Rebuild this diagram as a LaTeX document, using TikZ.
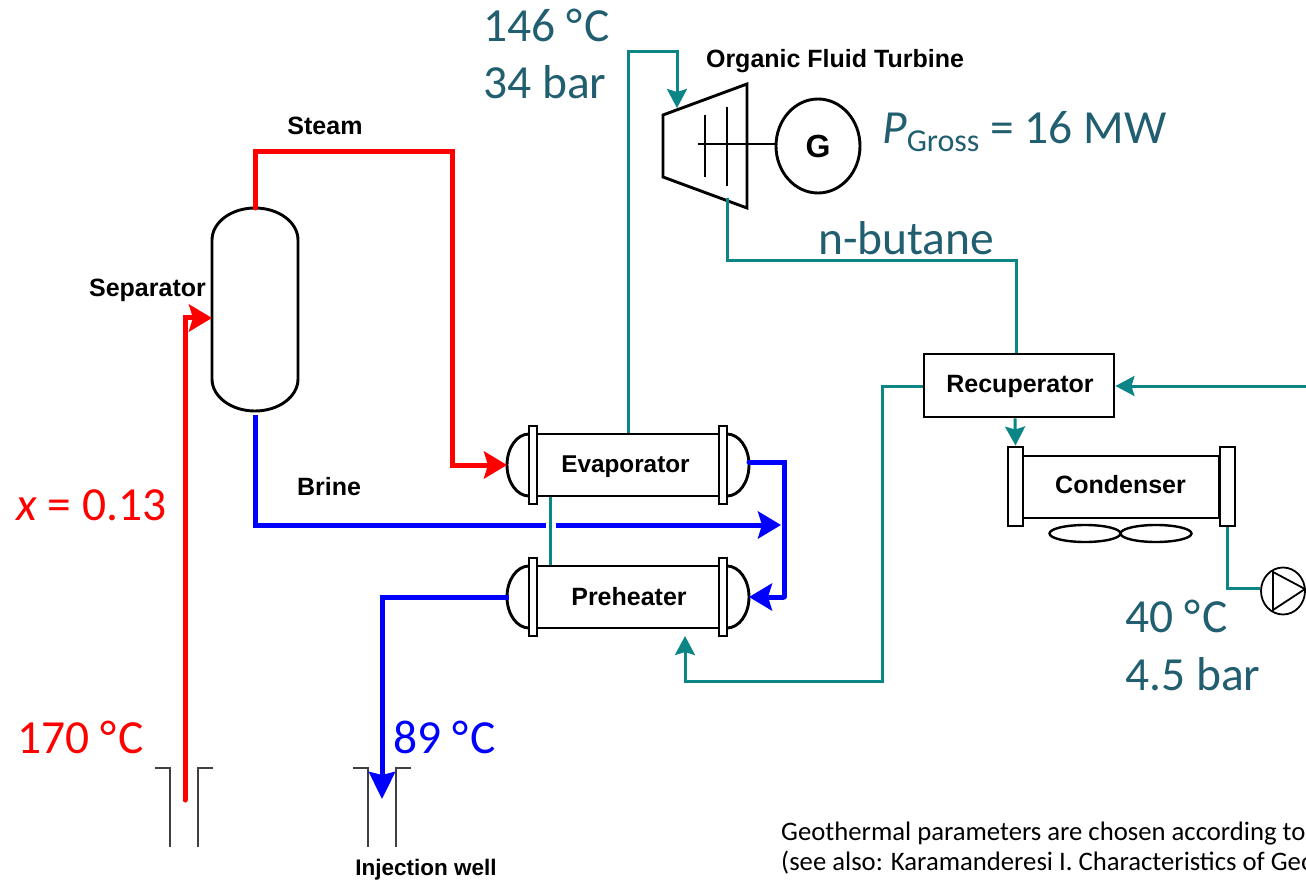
\documentclass[tikz,border=0pt]{standalone}
\usepackage{fontspec}
\setmainfont{Carlito}
\newfontfamily\labelfont{Liberation Sans}
\usetikzlibrary{arrows.meta,shapes.geometric}
\newcommand{\degC}{°\kern2pt C}

\begin{document}
\begin{tikzpicture}[x=1pt,y=-1pt,
  unitbox/.style={draw,line width=2.9,fill=white,inner sep=0},
  flange/.style={draw,line width=2.9,fill=white,inner sep=0,minimum width=8,minimum height=78},
  tag/.style={font=\labelfont\fontsize{25}{25}\selectfont\bfseries,inner sep=0},
  reading/.style={font=\fontsize{47.5}{47.5}\selectfont,inner sep=0,anchor=base west,text=dark},
  note/.style={font=\fontsize{26.7}{26.7}\selectfont,inner sep=0,anchor=base west},
  well/.style={draw=black!75,line width=1.6},
  hot/.style={draw=red,line width=5,line cap=round,-{Stealth[length=23,width=27,inset=4]}},
  brine/.style={draw=blue,line width=5},
  brinearrow/.style={brine,-{Stealth[length=23,width=27,inset=4]}},
  fluid/.style={draw=petrol,line width=3},
  fluidarrow/.style={fluid,-{Stealth[length=19,width=20,inset=3]}}]
\definecolor{petrol}{HTML}{0B8585}
\definecolor{dark}{HTML}{215F70}
\clip (0,0) rectangle (1306,882);

% heat exchangers
\foreach \unit/\ypos in {evap/465,pre/597}
{ \draw[line width=2.9] (529,\ypos-31) arc[start angle=270,end angle=90,x radius=22,y radius=31];
  \draw[line width=2.9] (727,\ypos-31) arc[start angle=270,end angle=450,x radius=22,y radius=31];
  \node [unitbox,minimum width=190,minimum height=62] (\unit) at (628,\ypos) {};
  \node [flange] (\unit L) at (533,\ypos) {};
  \node [flange] (\unit R) at (723,\ypos) {};
  \coordinate (\unit in) at (507,\ypos);
  \coordinate (\unit out) at (749,\ypos);}

\node [unitbox,minimum width=190,minimum height=63] (recup) at (1019,385.5) {};
\node [unitbox,minimum width=196,minimum height=62] (cond) at (1121,487) {};
\node [flange,minimum width=15,minimum height=79] (condL) at (1015.5,486.5) {};
\node [flange,minimum width=15,minimum height=79] (condR) at (1227.5,486.5) {};
\foreach \fan/\xpos in {fanA/1085,fanB/1156}
{  \node [ellipse,draw,line width=2.4,minimum width=71,minimum height=17,inner sep=0] (\fan) at (\xpos,533.5) {};}

\node [minimum width=86,minimum height=203,inner sep=0,outer sep=0] (sep) at (255,309.5) {};
\draw[line width=2.9] (212,240) arc[start angle=180,end angle=360,x radius=43,y radius=32]
  -- (298,379) arc[start angle=0,end angle=180,x radius=43,y radius=32] -- cycle;

\node [tag] (evaplabel) at (625.5,466.5) {\fontsize{24.3}{24.3}\selectfont Evaporator};
\node [tag] (prelabel) at (629,597) {Preheater};
\node [tag] (recuplabel) at (1020,386) {Recuperator};
\node [tag] (condlabel) at (1120.5,485) {Condenser};
\node [tag] (seplabel) at (147.5,290) {Separator};
\node [tag] (steamlabel) at (325,126) {Steam};
\node [tag] (brinelabel) at (329,487) {Brine};
\node [tag] (turbinelabel) at (835,61) {Organic Fluid Turbine};
\node [tag] (welllabel) at (426,870) {\fontsize{22.5}{22.5}\selectfont Injection well};

% turbine and generator
\draw[line width=2.9,line join=miter] (663,115) coordinate (turbA) -- (747,84) coordinate (turbB)
  -- (747,208) coordinate (turbC) -- (663,177) coordinate (turbD) -- cycle;
\node [ellipse,draw,line width=2.9,minimum width=84,minimum height=94,inner sep=0,font=\labelfont\fontsize{32}{32}\selectfont\bfseries] (gen) at (818,146) {G};
\coordinate (shaft) at (698,144);
\draw[line width=2.4] (shaft) -- (gen.west |- shaft);
\draw[line width=2] (705,115) -- (705,177);
\draw[line width=2] (727,107) -- (727,186);
\coordinate (turbin) at (677,108);
\coordinate (turbout) at (727,198);

% pump
\node [ellipse,draw,line width=1.8,minimum width=44,minimum height=47,inner sep=0] (pump) at (1283,591) {};
\draw[line width=1.8] (1273,572) -- (1305,589) -- (1273,610) -- cycle;

% wells
\foreach \hole/\xpos in {prod/155,inj/353}
{  \coordinate (\hole) at (\xpos,768);
   \draw[well] (\hole) -- ++(15,0) -- ++(0,79);
   \draw[well] ([xshift=58pt]\hole) -- ++(-15,0) -- ++(0,79);}

% geofluid
\coordinate (prodtop) at (185,800);
\draw[hot] (prodtop) |- (sep.west |- 0,318);
\draw[hot] (sep.north) |- (452,152) |- (evapin);
\coordinate (brineend) at (781,525);
\draw[brinearrow] (556,525) -- (brineend);
\draw[brine] ([yshift=-4pt]sep.south) |- (546,525);
\draw[brine,line cap=round] ([yshift=3pt]evapout) -| (784,597);
\draw[brinearrow] (784,597) -- (preout);
\draw[brine,-{Stealth[length=27,width=26,inset=3]}] (prein) ++(2,0) -| (382,799);

% working fluid
\draw[fluid] (evap.south -| 550,0) -- (pre.north -| 550,0);
\draw[fluidarrow] (evap.north) |- (677,52) -- (turbin);
\draw[fluid] (turbout) |- (1016,261) -- (recup.north -| 1016,0);
\coordinate (feed) at (1306,386);
\draw[fluidarrow] (feed) -- (recup.east |- feed);
\draw[fluidarrow] (recup.south -| 1015,0) -- (condL.north);
\coordinate (prearrow) at (685,636);
\draw[fluidarrow] (recup.west |- feed) -| (882,681) -| (prearrow);
\draw[fluid] (condR.south) |- (pump.west |- 0,588);

% readings
\node [reading] (topT) at (483,42) {146 \degC};
\node [reading] (topP) at (483,99) {34 bar};
\node [reading] (power) at (882,144) {\textit{P}\raisebox{-8pt}{\fontsize{32}{32}\selectfont Gross} = 16 MW};
\node [reading] (fluidname) at (818,255) {n-butane};
\node [reading] (lowT) at (1125,632) {40 \degC};
\node [reading] (lowP) at (1125,690) {4.5 bar};
\node [reading,text=red] (quality) at (16,520) {\textit{x} = 0.13};
\node [reading,text=red] (wellT) at (17,753) {170 \degC};
\node [reading,text=blue] (injT) at (393,753) {89 \degC};
\node [note] (noteA) at (781,840) {Geothermal parameters are chosen according to};
\node [note] (noteB) at (781,870) {(see also: Karamanderesi I. Characteristics of Geo};
\end{tikzpicture}
\end{document}
